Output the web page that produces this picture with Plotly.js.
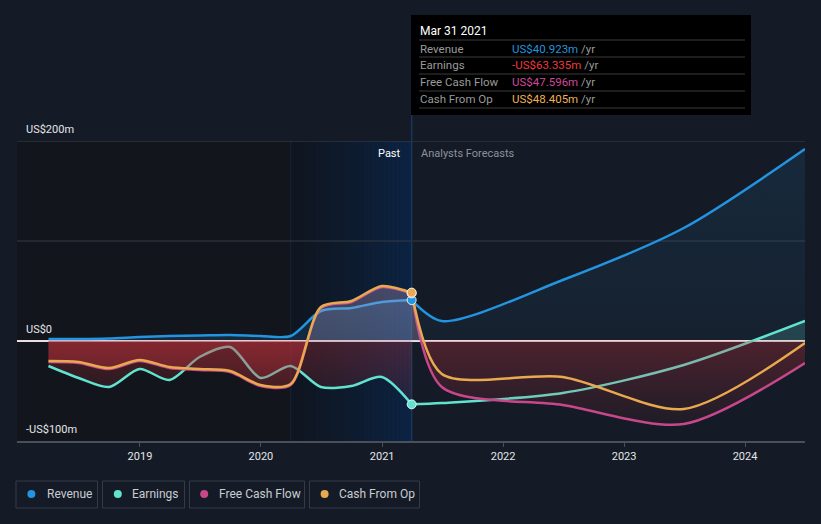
<!DOCTYPE html>
<html>
<head>
<meta charset="utf-8">
<script src="https://cdn.plot.ly/plotly-3.0.1.min.js"></script>
<style>
html,body{margin:0;padding:0;background:#151b26;}
#chart{width:821px;height:524px;}
</style>
</head>
<body>
<div id="chart"></div>
<script>
// ---------- data ----------
const pastDates = ['2018-03-31','2018-06-30','2018-09-30','2018-12-31','2019-03-31','2019-06-30','2019-09-30','2019-12-31','2020-03-31','2020-06-30','2020-09-30','2020-12-31','2021-03-31'];
const forecastDates = ['2021-03-31','2021-06-30','2022-06-30','2023-06-30','2024-06-30'];

const revenuePast = [2, 2, 2.5, 4, 5, 5.5, 6, 5, 5, 30, 33, 39, 40.923];
const revenueForecast = [40.923, 20, 61, 113, 192];
const earningsPast = [-25, -37, -46, -28, -39, -16, -6, -37, -25, -46, -45, -36, -63.335];
const earningsForecast = [-63.335, -62, -52, -24, 20];
const fcfPast = [-21, -22, -28, -20, -27, -29, -31, -45, -44, 33, 39, 54, 47.596];
const fcfForecast = [47.596, -46, -64, -83, -22];
const cfoPast = [-20, -21, -27, -19, -26, -28, -30, -44, -43, 34, 40, 55, 48.405];
const cfoForecast = [48.405, -33, -36, -68, -2];

const seriesNames = ['Revenue', 'Earnings', 'Free Cash Flow', 'Cash From Op'];
const tooltipDate = 'Mar 31 2021';
const tooltipValues = ['US$40.923m', '-US$63.335m', 'US$47.596m', 'US$48.405m'];
const yTickVals = [200, 0, -100];
const yTickText = ['US$200m', 'US$0', '-US$100m'];
const xTickVals = ['2019-01-01','2020-01-01','2021-01-01','2022-01-01','2023-01-01','2024-01-01'];
const xTickText = ['2019','2020','2021','2022','2023','2024'];
const xRange = ['2017-12-26','2024-06-30'];
const pastBandStart = '2020-03-31';
const nowDate = '2021-03-31';

// ---------- styling ----------
const C = {rev:'#2394df', earn:'#62e3cf', fcf:'#c8478a', cfo:'#e9a94f'};
const W = 821, H = 524, ML = 17, MR = 16, MT = 141, MB = 83;
const PW = W - ML - MR, PH = H - MT - MB;
const px = x => (x - ML) / PW;
const py = y => (H - MB - y) / PH;
const FONT = 'Roboto, "Open Sans", sans-serif';

function grad(negTop, negBot, posLow, posHigh) {
  return {type:'vertical', start:-100, stop:200,
    colorscale:[[0, negBot],[0.3325, negTop],[0.3345, posLow],[1, posHigh]]};
}
function line(x, y, color, fg, name) {
  return {x:x, y:y, type:'scatter', mode:'lines', name:name, showlegend:false, hoverinfo:'skip',
    line:{color:color, width:2.5, shape:'spline', smoothing:0.8},
    fill:'tozeroy', fillgradient:fg};
}
const none = 'rgba(0,0,0,0)';
const traces = [
  line(pastDates, revenuePast, C.rev, grad(none, none, 'rgba(35,148,223,0.15)', 'rgba(35,148,223,0.3)'), 'Revenue'),
  line(forecastDates, revenueForecast, C.rev, grad(none, none, 'rgba(35,148,223,0.05)', 'rgba(35,148,223,0.12)'), 'Revenue'),
  line(pastDates, earningsPast, C.earn, grad('rgba(205,50,60,0.28)', 'rgba(205,50,60,0.0)', none, none), 'Earnings'),
  line(forecastDates, earningsForecast, C.earn, grad(none, none, 'rgba(98,227,207,0.18)', 'rgba(98,227,207,0.25)'), 'Earnings'),
  line(pastDates, fcfPast, C.fcf, grad('rgba(205,50,60,0.28)', 'rgba(205,50,60,0.0)', 'rgba(190,150,200,0.14)', 'rgba(190,150,200,0.25)'), 'Free Cash Flow'),
  line(forecastDates, fcfForecast, C.fcf, grad('rgba(205,50,60,0.3)', 'rgba(205,50,60,0.0)', 'rgba(190,150,200,0.14)', 'rgba(190,150,200,0.25)'), 'Free Cash Flow'),
  line(pastDates, cfoPast, C.cfo, grad('rgba(205,50,60,0.26)', 'rgba(205,50,60,0.0)', 'rgba(200,180,210,0.14)', 'rgba(200,180,210,0.24)'), 'Cash From Op'),
  line(forecastDates, cfoForecast, C.cfo, grad(none, none, 'rgba(200,180,210,0.14)', 'rgba(200,180,210,0.24)'), 'Cash From Op'),
  {x:[nowDate, nowDate, nowDate, nowDate],
   y:[revenuePast[12], earningsPast[12], fcfPast[12], cfoPast[12]],
   type:'scatter', mode:'markers', showlegend:false, hoverinfo:'skip',
   marker:{size:9, color:[C.rev, C.earn, C.fcf, C.cfo], line:{color:'rgba(255,255,255,0.85)', width:1}}}
];

// ---------- shapes ----------
const shapes = [];
// darker past region
shapes.push({type:'rect', layer:'below', xref:'x', yref:'paper', x0:xRange[0], x1:pastBandStart, y0:0, y1:1,
  fillcolor:'#12161c', line:{width:0}});
// gradient band (last 12 months)
const N = 30;
const t0 = new Date(pastBandStart).getTime(), t1 = new Date(nowDate).getTime();
const cA = [15, 22, 33], cB = [11, 36, 68];
for (let i = 0; i < N; i++) {
  const f = (i + 0.5) / N;
  const e = Math.pow(f, 1.4);
  const c = cA.map((v, k) => Math.round(v + (cB[k] - v) * e));
  shapes.push({type:'rect', layer:'below', xref:'x', yref:'paper',
    x0:new Date(t0 + (t1 - t0) * i / N).toISOString().slice(0,19),
    x1:new Date(t0 + (t1 - t0) * (i + 1.02) / N).toISOString().slice(0,19),
    y0:0, y1:1, fillcolor:`rgb(${c[0]},${c[1]},${c[2]})`, line:{width:0}});
}
shapes.push({type:'line', layer:'below', xref:'x', yref:'paper', x0:pastBandStart, x1:pastBandStart, y0:0, y1:1, line:{color:'#182233', width:1}});
// gridlines
shapes.push({type:'line', layer:'below', xref:'paper', yref:'y', x0:0, x1:1, y0:100, y1:100, line:{color:'#343a45', width:1}});
shapes.push({type:'line', layer:'below', xref:'paper', yref:'y', x0:0, x1:1, y0:200, y1:200, line:{color:'#3c424d', width:1}});
// crosshair
shapes.push({type:'line', layer:'below', xref:'x', yref:'paper', x0:nowDate, x1:nowDate, y0:0, y1:py(115), line:{color:'#1d3456', width:1.5}});
// tooltip
shapes.push({type:'rect', layer:'above', xref:'paper', yref:'paper', x0:px(411), x1:px(751), y0:py(115), y1:py(15), fillcolor:'#000000', line:{width:0}});
[40, 57, 74, 91, 108].forEach(y => shapes.push({type:'line', layer:'above', xref:'paper', yref:'paper', x0:px(419), x1:px(745), y0:py(y), y1:py(y), line:{color:'#3a3a3a', width:1}}));
// legend boxes
const legBoxes = [[16, 97.5], [102.5, 184.5], [189.5, 304.5], [309.5, 419.5]];
const legDots = [31.4, 117.8, 204.2, 324.6];
const legText = [44.5, 129.8, 216.8, 337.2];
const legColors = [C.rev, C.earn, C.fcf, C.cfo];
legBoxes.forEach(b => shapes.push({type:'rect', xref:'paper', yref:'paper', x0:px(b[0]), x1:px(b[1]), y0:py(508), y1:py(481), line:{color:'#353b46', width:1}, fillcolor:'rgba(0,0,0,0)'}));
legDots.forEach((d, i) => shapes.push({type:'circle', xref:'paper', yref:'paper', x0:px(d-4), x1:px(d+4), y0:py(498), y1:py(490), fillcolor:legColors[i], line:{width:0}}));

// ---------- annotations ----------
const ann = [];
yTickVals.forEach((v, i) => ann.push({xref:'paper', yref:'y', x:px(24), y:v, yshift:12, xanchor:'left', yanchor:'middle', showarrow:false,
  text:yTickText[i], font:{family:FONT, size:11, color:'#e4e6ea'}}));
ann.push({xref:'paper', yref:'paper', x:px(403), y:py(153), xanchor:'right', yanchor:'middle', showarrow:false, text:'Past', font:{family:FONT, size:11, color:'#ffffff'}});
ann.push({xref:'paper', yref:'paper', x:px(419), y:py(153), xanchor:'left', yanchor:'middle', showarrow:false, text:'Analysts Forecasts', font:{family:FONT, size:11, color:'#8c929b'}});
ann.push({xref:'paper', yref:'paper', x:px(418), y:py(31), xanchor:'left', yanchor:'middle', showarrow:false, text:tooltipDate, font:{family:FONT, size:12, color:'#ffffff'}});
const rowY = [48.5, 65.5, 82.5, 99.5];
const valColors = ['#2394df', '#f0383c', '#d0489a', '#f0b050'];
seriesNames.forEach((n, i) => {
  ann.push({xref:'paper', yref:'paper', x:px(418), y:py(rowY[i]), xanchor:'left', yanchor:'middle', showarrow:false, text:n, font:{family:FONT, size:11.5, color:'#9a9a9a'}});
  ann.push({xref:'paper', yref:'paper', x:px(510), y:py(rowY[i]), xanchor:'left', yanchor:'middle', showarrow:false,
    text:`<span style="color:${valColors[i]}">${tooltipValues[i]}</span> /yr`, font:{family:FONT, size:11.5, color:'#9a9a9a'}});
});
seriesNames.forEach((n, i) => ann.push({xref:'paper', yref:'paper', x:px(legText[i]), y:py(494), xanchor:'left', yanchor:'middle', showarrow:false, text:n, font:{family:FONT, size:12, color:'#c9ccd1'}}));

const layout = {
  width:W, height:H,
  margin:{l:ML, r:MR, t:MT, b:MB, pad:0},
  paper_bgcolor:'#151b26', plot_bgcolor:'#151b26',
  showlegend:false,
  font:{family:FONT, color:'#e4e6ea'},
  xaxis:{type:'date', range:xRange, showgrid:false, zeroline:false,
    showline:true, linecolor:'#4a505b', linewidth:1.5, ticks:'outside', ticklen:4, tickcolor:'#4a505b',
    tickvals:xTickVals, ticktext:xTickText, tickfont:{family:FONT, size:11, color:'#e4e6ea'}, fixedrange:true},
  yaxis:{range:[-100, 200], showgrid:false, showticklabels:false, ticks:'', zeroline:true, zerolinecolor:'#eadfe0', zerolinewidth:1.2, fixedrange:true},
  shapes:shapes, annotations:ann
};
Plotly.newPlot('chart', traces, layout, {displayModeBar:false, staticPlot:true});
</script>
</body>
</html>
